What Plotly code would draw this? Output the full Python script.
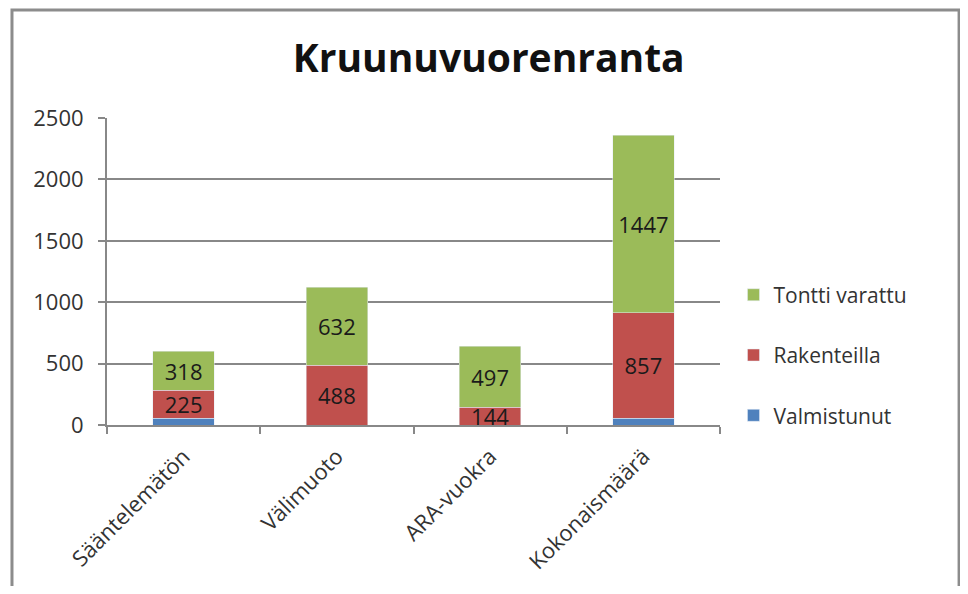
import plotly.graph_objects as go

categories = ["Sääntelemätön", "Välimuoto", "ARA-vuokra", "Kokonaismäärä"]
valmistunut = [57, 0, 0, 57]
rakenteilla = [225, 488, 144, 857]
tontti_varattu = [318, 632, 497, 1447]

FONT = "Open Sans"

fig = go.Figure()

fig.add_trace(go.Bar(
    x=categories, y=valmistunut, name="Valmistunut",
    marker=dict(color="#4F81BD"), legendgroup="c", legendrank=3,
))
fig.add_trace(go.Bar(
    x=categories, y=rakenteilla, name="Rakenteilla",
    marker=dict(color="#C0504D"), legendgroup="b", legendrank=2,
    text=rakenteilla, textposition="inside", insidetextanchor="middle",
    constraintext="none", textfont=dict(size=22, color="#1a1a1a", family=FONT),
))
fig.add_trace(go.Bar(
    x=categories, y=tontti_varattu, name="Tontti varattu",
    marker=dict(color="#9BBB59"), legendgroup="a", legendrank=1,
    text=tontti_varattu, textposition="inside", insidetextanchor="middle",
    constraintext="none", textfont=dict(size=22, color="#1a1a1a", family=FONT),
))

fig.update_layout(
    barmode="stack",
    bargap=0.6,
    width=952,
    height=578,
    margin=dict(l=99, r=240, t=110, b=161),
    paper_bgcolor="white",
    plot_bgcolor="white",
    font=dict(family=FONT, size=21, color="#333333"),
    title=dict(
        text="<b>Kruunuvuorenranta</b>",
        x=0.505, xanchor="center", y=0.913, yanchor="middle",
        font=dict(size=39, color="#111111", family=FONT),
    ),
    legend=dict(
        x=1.022, xanchor="left", y=0.49, yanchor="top",
        traceorder="grouped", tracegroupgap=30,
        font=dict(size=21, color="#333333"),
    ),
    showlegend=True,
    xaxis=dict(
        showline=True, linecolor="#888888", linewidth=2,
        ticks="outside", tickson="boundaries", ticklen=7, tickcolor="#888888",
        tickwidth=2, tickangle=-45, tickfont=dict(size=22, color="#333333"),
        ticklabelstandoff=8,
        showgrid=False,
    ),
    yaxis=dict(
        range=[0, 2500], tickvals=[0, 500, 1000, 1500, 2000, 2500],
        showline=True, linecolor="#888888", linewidth=2,
        ticks="outside", ticklen=7, tickcolor="#888888", tickwidth=2,
        ticklabelstandoff=10,
        showgrid=True, gridcolor="#888888", gridwidth=2,
        tickfont=dict(size=22, color="#333333"),
        zeroline=False,
    ),
    shapes=[dict(
        type="rect", xref="paper", yref="paper",
        x0=-0.155, x1=1.39, y0=-0.7, y1=1.352,
        line=dict(color="#8c8c8c", width=3),
    )],
)

fig.write_html("out.html")
